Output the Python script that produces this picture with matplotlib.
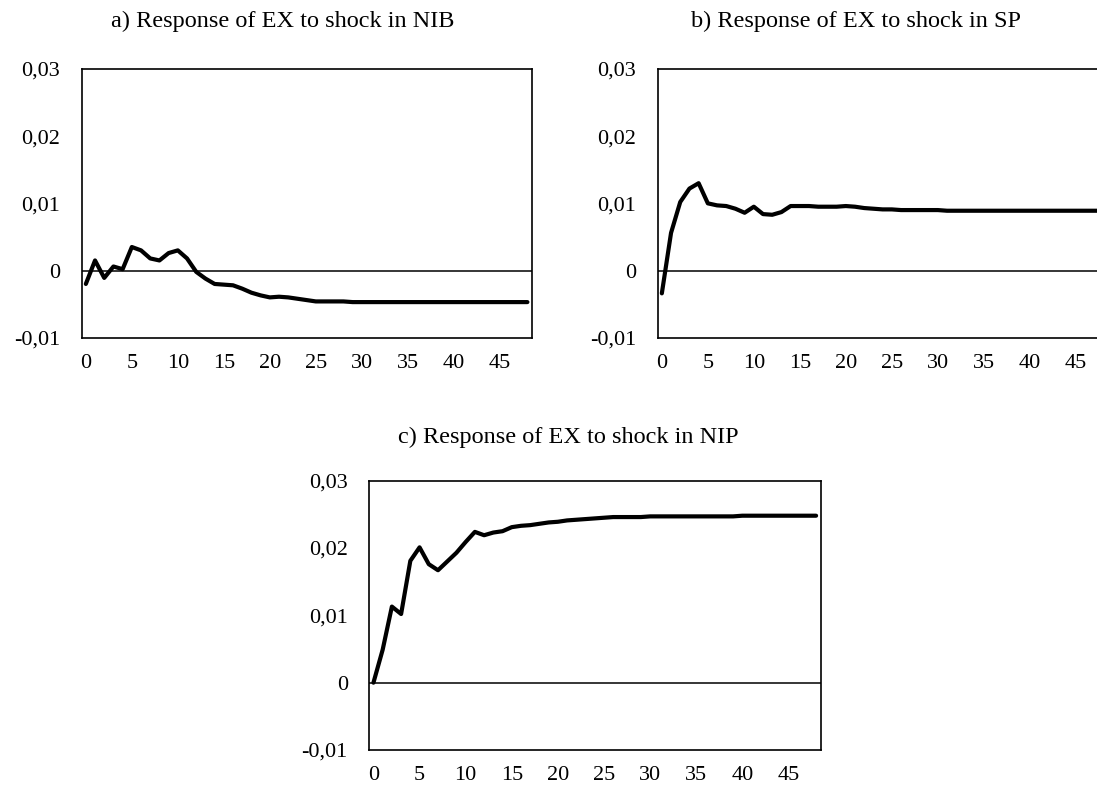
import numpy as np
import matplotlib
matplotlib.use("Agg")
import matplotlib.pyplot as plt

plt.rcParams['font.family'] = ['Liberation Serif', 'DejaVu Serif']

# Impulse responses (periods 0..48)
periods = np.arange(49)

resp_nib = [-0.0020, 0.0015, -0.0011, 0.0006, 0.0002, 0.0035, 0.0030, 0.0018, 0.0015, 0.0026,
            0.0030, 0.0018, -0.0002, -0.0012, -0.0020, -0.0021, -0.0022, -0.0027, -0.0033, -0.0037,
            -0.0040, -0.0039, -0.0040, -0.0042, -0.0044, -0.0046, -0.0046, -0.0046, -0.0046, -0.0047,
            -0.0047, -0.0047, -0.0047, -0.0047, -0.0047, -0.0047, -0.0047, -0.0047, -0.0047, -0.0047,
            -0.0047, -0.0047, -0.0047, -0.0047, -0.0047, -0.0047, -0.0047, -0.0047, -0.0047]

resp_sp = [-0.0034, 0.0056, 0.0102, 0.0122, 0.0130, 0.0100, 0.0097, 0.0096, 0.0092, 0.0086,
           0.0095, 0.0084, 0.0083, 0.0087, 0.0096, 0.0096, 0.0096, 0.0095, 0.0095, 0.0095,
           0.0096, 0.0095, 0.0093, 0.0092, 0.0091, 0.0091, 0.0090, 0.0090, 0.0090, 0.0090,
           0.0090, 0.0089, 0.0089, 0.0089, 0.0089, 0.0089, 0.0089, 0.0089, 0.0089, 0.0089,
           0.0089, 0.0089, 0.0089, 0.0089, 0.0089, 0.0089, 0.0089, 0.0089, 0.0089]

resp_nip = [0.0000, 0.0049, 0.0113, 0.0102, 0.0181, 0.0201, 0.0176, 0.0167, 0.0180, 0.0193,
            0.0209, 0.0224, 0.0219, 0.0223, 0.0225, 0.0231, 0.0233, 0.0234, 0.0236, 0.0238,
            0.0239, 0.0241, 0.0242, 0.0243, 0.0244, 0.0245, 0.0246, 0.0246, 0.0246, 0.0246,
            0.0247, 0.0247, 0.0247, 0.0247, 0.0247, 0.0247, 0.0247, 0.0247, 0.0247, 0.0247,
            0.0248, 0.0248, 0.0248, 0.0248, 0.0248, 0.0248, 0.0248, 0.0248, 0.0248]

titles = ['a) Response of EX to shock in NIB',
          'b) Response of EX to shock in SP',
          'c) Response of EX to shock in NIP']

yticks = [-0.01, 0, 0.01, 0.02, 0.03]
ytick_labels = ['-0,01', '0', '0,01', '0,02', '0,03']
xticks = list(range(0, 50, 5))

W, H = 1097, 787
fig = plt.figure(figsize=(W / 100, H / 100), dpi=100)


def panel(rect, y, title, title_xy):
    ax = fig.add_axes([rect[0] / W, 1 - rect[3] / H, (rect[2] - rect[0]) / W, (rect[3] - rect[1]) / H])
    ax.plot(periods, y, color='black', lw=3, solid_joinstyle='round', solid_capstyle='round', zorder=3)
    ax.axhline(0, color='black', lw=1.1, zorder=2)
    ax.set_xlim(-0.45, 48.5)
    ax.set_ylim(-0.01, 0.03)
    ax.set_yticks(yticks)
    ax.set_yticklabels(ytick_labels)
    ax.set_xticks(xticks)
    ax.tick_params(axis='both', length=0, labelsize=16)
    ax.tick_params(axis='y', pad=15.5)
    ax.tick_params(axis='x', pad=11.5)
    for s in ax.spines.values():
        s.set_linewidth(1.2)
        s.set_color('black')
    fig.text(title_xy[0] / W, 1 - title_xy[1] / H, title, ha='center', va='center', fontsize=17.5)
    return ax


# rects in pixels: left, top, right, bottom
panel((81.7, 69, 532, 337.7), resp_nib, titles[0], (283, 21))
panel((657.7, 69, 1108, 337.7), resp_sp, titles[1], (856, 21))
panel((369.3, 480.7, 820.7, 750), resp_nip, titles[2], (568, 437))

fig.savefig('out.png', dpi=100)
